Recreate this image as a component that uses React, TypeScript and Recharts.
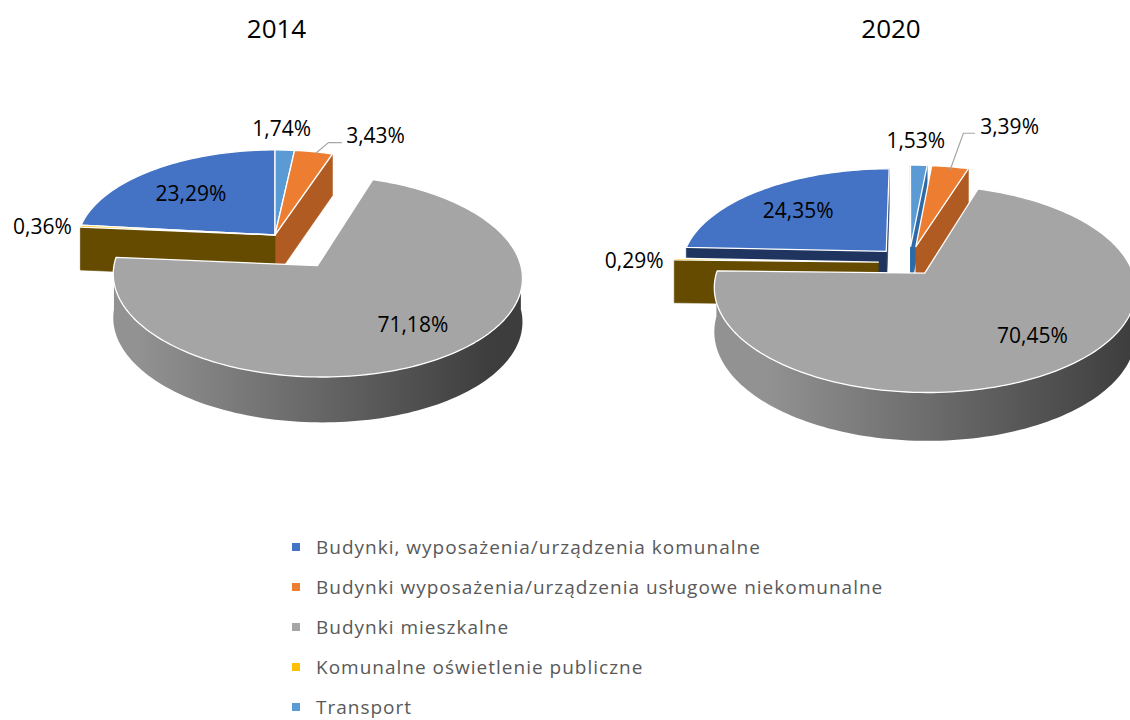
import { Pie, PieChart } from "recharts";

// categories in legend order
const CATEGORIES = [
  "Budynki, wyposażenia/urządzenia komunalne",
  "Budynki wyposażenia/urządzenia usługowe niekomunalne",
  "Budynki mieszkalne",
  "Komunalne oświetlenie publiczne",
  "Transport",
];
const VALUES_2014 = [23.29, 3.43, 71.18, 0.36, 1.74];
const VALUES_2020 = [24.35, 3.39, 70.45, 0.29, 1.53];
const YEARS = ["2014", "2020"];

// order of the slices round the pie (clockwise, starting at the blue one)
const SLICE_ORDER = [0, 4, 1, 2, 3];

const TOP_COLORS = ["#4472c4", "#ed7d31", "#a5a5a5", "#ffc000", "#5b9bd5"];
const FACE_COLORS = ["#1f3560", "#b05b22", "#6e6e6e", "#654b00", "#2e6aa6"];
const WALL_LIGHT = ["#2f528f", "#c8672a", "#929292", "#7a5c00", "#3d7cbf"];
const WALL_DARK = ["#1a2c50", "#8a4515", "#3d3d3d", "#4d3900", "#24527e"];

const RAD = Math.PI / 180;
const FONT = '"Open Sans", sans-serif';

type Placement =
  | { inside: true; r: number; dx: number; dy: number }
  | { inside: false; dx: number; dy: number; anchor: "start" | "middle" | "end"; leader?: number[][] };

type PieCfg = {
  id: string;
  cx: number;
  cy: number;
  radius: number;
  tilt: number;
  persp: number;
  depth: number;
  depthPersp: number;
  explode: number[];
  labels: Placement[];
};

const PIE_2014: PieCfg = {
  id: "p14",
  cx: 275,
  cy: 235,
  radius: 197,
  tilt: 0.475,
  persp: 0.1,
  depth: 43,
  depthPersp: 0.04,
  explode: [0, 0, 0.38, 0, 0],
  labels: [
    { inside: true, r: 0.67, dx: 0, dy: 3 },
    { inside: false, dx: 32.5, dy: -16.5, anchor: "start", leader: [[2.5, 1.3], [14.8, -9.1], [28.2, -9.1]] },
    { inside: true, r: 0.75, dx: 3, dy: -8 },
    { inside: false, dx: -9, dy: 0, anchor: "end" },
    { inside: false, dx: -3, dy: -22, anchor: "middle" },
  ],
};

const PIE_2020: PieCfg = {
  id: "p20",
  cx: 909,
  cy: 262.6,
  radius: 205,
  tilt: 0.478,
  persp: 0.15,
  depth: 43,
  depthPersp: 0.1,
  explode: [0.163, 0.17, 0.13, 0.15, 0.17],
  labels: [
    { inside: true, r: 0.69, dx: 0, dy: 3 },
    { inside: false, dx: 30, dy: -40, anchor: "start", leader: [[0, 3], [13.2, -33.5], [24.9, -33.5]] },
    { inside: true, r: 0.75, dx: 6, dy: -6 },
    { inside: false, dx: -11, dy: 1, anchor: "end" },
    { inside: false, dx: -3, dy: -25, anchor: "middle" },
  ],
};

const buildData = (values: number[]) =>
  SLICE_ORDER.map((i) => ({ idx: i, name: CATEGORIES[i], value: values[i] }));

const startAngleOf = (values: number[]) => {
  const total = values.reduce((a, b) => a + b, 0);
  return 90 + (360 * values[SLICE_ORDER[0]]) / total;
};

const fmt = (v: number) => v.toFixed(2).replace(".", ",") + "%";

type Pt = number[];

function sliceInfo(props: any, cfg: PieCfg) {
  const idx: number = props.payload?.idx ?? props.idx;
  const lo = Math.min(props.startAngle, props.endAngle);
  const hi = Math.max(props.startAngle, props.endAngle);
  const mid = (lo + hi) / 2;
  const e = cfg.explode[idx] || 0;
  const ex = e * Math.cos(mid * RAD);
  const ey = e * Math.sin(mid * RAD);
  const R = props.outerRadius;
  const P = (deg: number, rr: number, h: number): Pt => {
    const u = ex + rr * Math.cos(deg * RAD);
    const v = ey + rr * Math.sin(deg * RAD);
    const f = 1 / (1 + cfg.persp * v);
    return [
      props.cx + R * u * f,
      props.cy - R * cfg.tilt * v * f + (h * cfg.depth) / (1 + cfg.depthPersp * v),
    ];
  };
  return { idx, lo, hi, mid, P };
}

function arc(P: (d: number, r: number, h: number) => Pt, from: number, to: number, h: number) {
  const n = Math.max(2, Math.ceil(Math.abs(to - from) / 1.5));
  const out: Pt[] = [];
  for (let i = 0; i <= n; i++) out.push(P(from + ((to - from) * i) / n, 1, h));
  return out;
}

const toPath = (pts: Pt[]) =>
  "M" + pts.map((p) => p[0].toFixed(2) + "," + p[1].toFixed(2)).join("L") + "Z";

// cut faces along the radii
const renderFaces = (cfg: PieCfg) => (props: any) => {
  const { idx, lo, hi, P } = sliceInfo(props, cfg);
  const faces: Pt[][] = [];
  const face = (deg: number) => [P(deg, 0, 0), P(deg, 1, 0), P(deg, 1, 1), P(deg, 0, 1)];
  if (Math.cos(lo * RAD) > -1e-3) faces.push(face(lo));
  if (Math.cos(hi * RAD) < 1e-3) faces.push(face(hi));
  return (
    <g key={`face-${cfg.id}-${idx}`}>
      {faces.map((f, i) => (
        <path key={i} d={toPath(f)} fill={FACE_COLORS[idx]} stroke={FACE_COLORS[idx]} strokeWidth={0.6} />
      ))}
    </g>
  );
};

// curved outer wall, front half only
const renderWalls = (cfg: PieCfg) => (props: any) => {
  const { idx, lo, hi, P } = sliceInfo(props, cfg);
  const parts: Pt[][] = [];
  for (const k of [-1, 0, 1]) {
    const s = Math.max(lo, k * 360 - 180);
    const e = Math.min(hi, k * 360);
    if (e > s) parts.push([...arc(P, s, e, 0), ...arc(P, e, s, 1)]);
  }
  const gid = `${cfg.id}-wall-${idx}`;
  return (
    <g key={gid}>
      <defs>
        <linearGradient
          id={gid}
          gradientUnits="userSpaceOnUse"
          x1={props.cx - props.outerRadius * 0.7}
          x2={props.cx + props.outerRadius * 1.1}
          y1={0}
          y2={0}
        >
          <stop offset="0" stopColor={WALL_LIGHT[idx]} />
          <stop offset="1" stopColor={WALL_DARK[idx]} />
        </linearGradient>
      </defs>
      {parts.map((p, i) => (
        <path key={i} d={toPath(p)} fill={`url(#${gid})`} />
      ))}
    </g>
  );
};

const renderTops = (cfg: PieCfg) => (props: any) => {
  const { idx, lo, hi, P } = sliceInfo(props, cfg);
  const pts = [P(lo, 0, 0), ...arc(P, lo, hi, 0)];
  return (
    <path
      key={`top-${cfg.id}-${idx}`}
      d={toPath(pts)}
      fill={TOP_COLORS[idx]}
      stroke="#ffffff"
      strokeWidth={1.3}
      strokeLinejoin="round"
    />
  );
};

const renderLabels = (cfg: PieCfg) => (props: any) => {
  const { idx, mid, P } = sliceInfo(props, cfg);
  const value: number = props.payload?.value ?? props.value;
  const place = cfg.labels[idx];
  const style = { fontFamily: FONT, fontSize: 21 };
  if (place.inside) {
    const [x, y] = P(mid, place.r, 0);
    return (
      <text
        key={`lbl-${cfg.id}-${idx}`}
        x={x + place.dx}
        y={y + place.dy + 7.5}
        textAnchor="middle"
        fill="#000"
        style={style}
      >
        {fmt(value)}
      </text>
    );
  }
  const [ax, ay] = P(mid, 1, 0);
  return (
    <g key={`lbl-${cfg.id}-${idx}`}>
      {place.leader && (
        <polyline
          points={place.leader.map((p) => `${ax + p[0]},${ay + p[1]}`).join(" ")}
          fill="none"
          stroke="#a6a6a6"
          strokeWidth={1.2}
        />
      )}
      <text x={ax + place.dx} y={ay + place.dy + 7.5} textAnchor={place.anchor} fill="#000" style={style}>
        {fmt(value)}
      </text>
    </g>
  );
};

const layerPies = (cfg: PieCfg, values: number[]) => {
  const data = buildData(values);
  const start = startAngleOf(values);
  const renders = [renderFaces(cfg), renderWalls(cfg), renderTops(cfg), renderLabels(cfg)];
  return renders.map((r, i) => (
    <Pie
      key={`${cfg.id}-${i}`}
      data={data}
      dataKey="value"
      nameKey="name"
      cx={cfg.cx}
      cy={cfg.cy}
      outerRadius={cfg.radius}
      startAngle={start}
      endAngle={start - 360}
      fill="none"
      stroke="none"
      label={r}
      labelLine={false}
      isAnimationActive={false}
    />
  ));
};

export default function App() {
  return (
    <div
      style={{
        position: "absolute",
        left: 0,
        top: 0,
        width: 1130,
        height: 720,
        background: "#ffffff",
        overflow: "hidden",
      }}
    >
      <div style={{ position: "absolute", left: 0, top: 0 }}>
        <PieChart width={1130} height={480} margin={{ top: 0, right: 0, bottom: 0, left: 0 }}>
          {layerPies(PIE_2014, VALUES_2014)}
          {layerPies(PIE_2020, VALUES_2020)}
        </PieChart>
      </div>
      <svg
        width={1130}
        height={720}
        style={{ position: "absolute", left: 0, top: 0, pointerEvents: "none" }}
      >
        <text x={276.5} y={38} textAnchor="middle" fill="#000" style={{ fontFamily: FONT, fontSize: 26 }}>
          {YEARS[0]}
        </text>
        <text x={891} y={38} textAnchor="middle" fill="#000" style={{ fontFamily: FONT, fontSize: 26 }}>
          {YEARS[1]}
        </text>
        {CATEGORIES.map((name, i) => (
          <g key={name}>
            <rect x={292} y={543 + i * 40} width={8} height={8} fill={TOP_COLORS[i]} />
            <text
              x={316}
              y={553.5 + i * 40}
              fill="#595959"
              style={{ fontFamily: FONT, fontSize: 19, letterSpacing: 1.0 }}
            >
              {name}
            </text>
          </g>
        ))}
      </svg>
    </div>
  );
}
